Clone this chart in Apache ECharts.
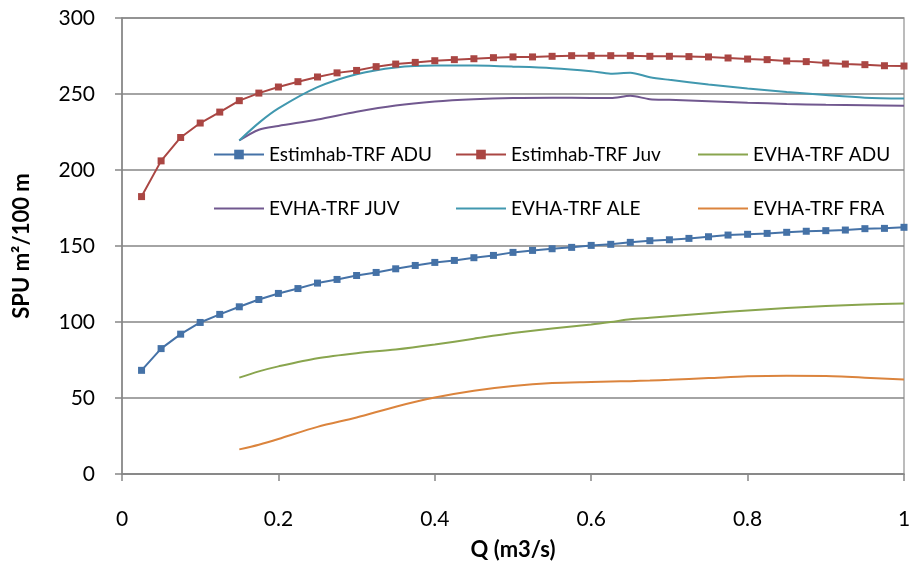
<!DOCTYPE html>
<html>
<head>
<meta charset="utf-8">
<script src="https://cdn.jsdelivr.net/npm/echarts@6/dist/echarts.min.js"></script>
<style>
html,body{margin:0;padding:0;background:#fff;}
#chart{width:911px;height:562px;}
</style>
</head>
<body>
<div id="chart"></div>
<script>
// Estimhab series (markers every 0.025)
var estimQ = [0.025,0.05,0.075,0.1,0.125,0.15,0.175,0.2,0.225,0.25,0.275,0.3,0.325,0.35,0.375,0.4,0.425,0.45,0.475,0.5,0.525,0.55,0.575,0.6,0.625,0.65,0.675,0.7,0.725,0.75,0.775,0.8,0.825,0.85,0.875,0.9,0.925,0.95,0.975,1.0];
var estimADU = [68.2,82.5,92,99.7,105,110,114.8,118.8,122,125.6,128,130.6,132.6,135,137.2,139.2,140.5,142.3,143.8,145.8,147.1,148.2,149.1,150.4,151.1,152.4,153.5,154.1,155,156.1,157.2,157.7,158.3,159,159.7,160.1,160.5,161.4,161.6,162.3];
var estimJuv = [182.5,206,221.4,230.9,238.1,245.6,250.6,254.6,258.1,261.2,263.9,265.5,268,269.7,270.8,271.9,272.6,273.2,273.9,274.4,274.4,274.8,275.2,275.2,275.2,275.2,274.8,274.8,274.6,274.4,273.7,273,272.6,271.7,271.3,270.4,269.7,269.3,268.6,268.4];

// EVHA series (smooth curves)
var evhaQ = [0.15,0.175,0.2,0.25,0.3,0.35,0.4,0.45,0.5,0.55,0.6,0.625,0.65,0.675,0.7,0.75,0.8,0.85,0.9,0.95,1.0];
var evhaADU = [63.4,67.5,70.8,76.2,79.5,81.9,85.2,89,92.7,95.8,98.4,100,101.8,102.8,103.8,105.8,107.6,109.2,110.6,111.5,112.2];
var evhaJUV = [219.4,226.5,229,233.2,238.3,242.4,245,246.5,247.3,247.5,247.4,247.3,248.8,246.6,246.2,245.2,244.3,243.5,242.9,242.6,242.3];
var evhaALE = [219.4,231,240.5,254.5,263,267.5,268.8,268.7,268,267,265,263.4,264,261,259.3,256.3,253.6,251.3,249.3,247.6,247];
var evhaFRA = [16.2,19.3,23,31,37.2,44.3,50.3,54.8,57.9,59.8,60.5,60.8,61.1,61.5,62,63.1,64.3,64.7,64.4,63.4,62.1];

var seriesNames = ['Estimhab-TRF ADU','Estimhab-TRF Juv','EVHA-TRF ADU','EVHA-TRF JUV','EVHA-TRF ALE','EVHA-TRF FRA'];
var colors = ['#4572A7','#AA4643','#89A54E','#71588F','#4198AF','#DB843D'];
var xTicks = {0:'0',0.2:'0.2',0.4:'0.4',0.6:'0.6',0.8:'0.8',1:'1'};

function pairs(xs, ys){ return xs.map(function(x,i){ return [x, ys[i]]; }); }

var font = 'Lato, "Open Sans", sans-serif';
var axisGray = '#868686';

function legItem(name){
  return name.indexOf('EVHA') === 0 ? {name: name, itemStyle: {opacity: 0}} : {name: name};
}
function legendCol(left, names){
  return {
    orient: 'vertical', left: left, top: 140,
    itemWidth: 50, itemHeight: 12, itemGap: 35,
    data: names.map(legItem),
    textStyle: {fontFamily: font, fontSize: 19, color: '#000'}
  };
}

var chart = echarts.init(document.getElementById('chart'), null, {renderer: 'canvas'});
chart.setOption({
  animation: false,
  color: colors,
  grid: {left: 122, right: 7, top: 18, bottom: 88, outerBoundsMode: 'none', containLabel: false,
         show: true, borderColor: '#a6a6a6', borderWidth: 1.5, backgroundColor: 'transparent'},
  legend: [
    legendCol(208, [seriesNames[0], seriesNames[3]]),
    legendCol(450, [seriesNames[1], seriesNames[4]]),
    legendCol(692, [seriesNames[2], seriesNames[5]])
  ],
  xAxis: {
    type: 'value', min: 0, max: 1, interval: 0.2,
    name: 'Q (m3/s)', nameLocation: 'middle', nameGap: 65,
    nameTextStyle: {fontFamily: font, fontSize: 22, fontWeight: 'bold', color: '#000'},
    axisLine: {show: true, onZero: false, lineStyle: {color: axisGray, width: 1.5}},
    axisTick: {show: true, inside: false, length: 7, lineStyle: {color: axisGray, width: 1.5}},
    axisLabel: {margin: 35, fontFamily: font, fontSize: 21, color: '#000',
      formatter: function(v){ var k = Math.round(v*10)/10; return xTicks[k] !== undefined ? xTicks[k] : String(k); }},
    splitLine: {show: false}
  },
  yAxis: {
    type: 'value', min: 0, max: 300, interval: 50,
    name: 'SPU m²/100 m', nameLocation: 'middle', nameGap: 89,
    nameTextStyle: {fontFamily: font, fontSize: 22, fontWeight: 'bold', color: '#000'},
    axisLine: {show: true, lineStyle: {color: axisGray, width: 1.5}},
    axisTick: {show: true, inside: false, length: 7, lineStyle: {color: axisGray, width: 1.5}},
    axisLabel: {margin: 27, fontFamily: font, fontSize: 21, color: '#000'},
    splitLine: {show: true, lineStyle: {color: axisGray, width: 1.5}}
  },
  series: [
    {name: seriesNames[0], type: 'line', data: pairs(estimQ, estimADU), symbol: 'rect', symbolSize: 7, showAllSymbol: true,
     lineStyle: {width: 2, color: colors[0]}, itemStyle: {color: colors[0]}},
    {name: seriesNames[1], type: 'line', data: pairs(estimQ, estimJuv), symbol: 'rect', symbolSize: 7, showAllSymbol: true,
     lineStyle: {width: 2, color: colors[1]}, itemStyle: {color: colors[1]}},
    {name: seriesNames[2], type: 'line', data: pairs(evhaQ, evhaADU), smooth: 0.3, showSymbol: false, symbol: 'none',
     lineStyle: {width: 2, color: colors[2]}, itemStyle: {color: colors[2]}},
    {name: seriesNames[3], type: 'line', data: pairs(evhaQ, evhaJUV), smooth: 0.3, showSymbol: false, symbol: 'none',
     lineStyle: {width: 2, color: colors[3]}, itemStyle: {color: colors[3]}},
    {name: seriesNames[4], type: 'line', data: pairs(evhaQ, evhaALE), smooth: 0.3, showSymbol: false, symbol: 'none',
     lineStyle: {width: 2, color: colors[4]}, itemStyle: {color: colors[4]}},
    {name: seriesNames[5], type: 'line', data: pairs(evhaQ, evhaFRA), smooth: 0.3, showSymbol: false, symbol: 'none',
     lineStyle: {width: 2, color: colors[5]}, itemStyle: {color: colors[5]}}
  ]
});
</script>
</body>
</html>
